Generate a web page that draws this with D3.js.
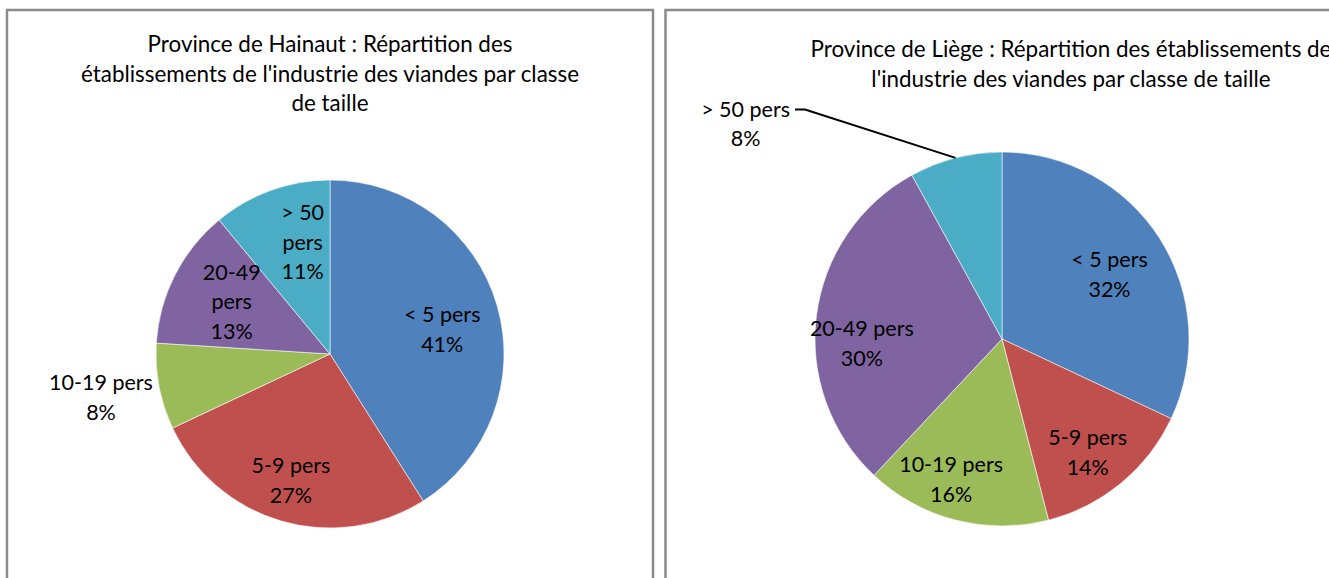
<!DOCTYPE html>
<html><head><meta charset="utf-8">
<script src="https://cdn.jsdelivr.net/npm/d3@7"></script>
<style>
html,body{margin:0;padding:0;background:#fff;overflow:hidden}
svg{display:block}
text{font-family:Lato,"Open Sans",sans-serif;fill:#000}
</style></head><body>
<svg id="chart" width="1329" height="578"></svg>
<script>
// ---- data ----
const categories = ["< 5 pers", "5-9 pers", "10-19 pers", "20-49 pers", "> 50 pers"];
const hainautValues = [41, 27, 8, 13, 11];
const liegeValues = [32, 14, 16, 30, 8];
const hainautTitle = ["Province de Hainaut : Répartition des", "établissements de l'industrie des viandes par classe", "de taille"];
const liegeTitle = ["Province de Liège : Répartition des établissements de", "l'industrie des viandes par classe de taille"];
const colors = ["#4F81BD", "#C0504D", "#9BBB59", "#8064A2", "#4BACC6"];

// ---- layout (label placement: radius fraction, angle offset in degrees, wrap, leader) ----
const panels = [
  { values: hainautValues, title: hainautTitle, box: [7, 10, 646, 640], cx: 330, cy: 354, r: 174,
    titleX: 330, titleY: 52,
    labels: [
      { f: 0.66, da: 4 }, { f: 0.76, da: 1 }, { f: 1.34, da: 0 },
      { f: 0.64, da: 1, wrap: true }, { f: 0.66, da: 6, wrap: true }
    ] },
  { values: liegeValues, title: liegeTitle, box: [665.5, 10, 700, 640], cx: 1002, cy: 339, r: 187,
    titleX: 1071, titleY: 57,
    labels: [
      { f: 0.67, da: 1.5 }, { f: 0.76, da: 2.5 }, { f: 0.80, da: 5.5 },
      { f: 0.75, da: -9 }, { f: 1.79, da: -35.6, leader: true }
    ] }
];

const svg = d3.select("#chart");
const fontSize = 21.5, titleSize = 22.4, lineH = 29.5;
const pie = d3.pie().sort(null).value(d => d);
const color = d3.scaleOrdinal().domain(categories).range(colors);
const fmt = d3.format(".0%");

panels.forEach(p => {
  const g = svg.append("g");
  g.append("rect").attr("x", p.box[0]).attr("y", p.box[1]).attr("width", p.box[2]).attr("height", p.box[3])
    .attr("fill", "#fff").attr("stroke", "#8a8a8a").attr("stroke-width", 2.5);

  const t = g.append("text").attr("text-anchor", "middle").style("font-size", titleSize + "px");
  p.title.forEach((line, i) => t.append("tspan").attr("x", p.titleX).attr("y", p.titleY + i * lineH).text(line));

  const total = d3.sum(p.values);
  const arcs = pie(p.values);
  const arc = d3.arc().innerRadius(0).outerRadius(p.r);
  const pg = g.append("g").attr("transform", `translate(${p.cx},${p.cy})`);
  pg.selectAll("path").data(arcs).join("path")
    .attr("d", arc).attr("fill", (d, i) => color(categories[i]))
    .attr("stroke", "rgba(255,255,255,0.7)").attr("stroke-width", 0.8);

  arcs.forEach((d, i) => {
    const L = p.labels[i];
    const mid = (d.startAngle + d.endAngle) / 2;
    const a = mid + L.da * Math.PI / 180;
    const rr = p.r * L.f;
    const x = Math.sin(a) * rr, y = -Math.cos(a) * rr;
    const pct = fmt(d.value / total);
    const lines = L.wrap ? categories[i].split(/ (?=pers)/).concat([pct]) : [categories[i], pct];
    const tx = pg.append("text").attr("text-anchor", "middle").style("font-size", fontSize + "px");
    const y0 = y - (lines.length - 1) * lineH / 2 + 7.5;
    lines.forEach((ln, k) => tx.append("tspan").attr("x", x).attr("y", y0 + k * lineH).text(ln));
    if (L.leader) {
      const w = tx.select("tspan").node().getComputedTextLength();
      const sx = x + w / 2 + 5, sy = y0 - 7;
      const ex = Math.sin(mid) * p.r, ey = -Math.cos(mid) * p.r;
      pg.append("path").attr("d", d3.line()([[sx, sy], [sx + 10, sy], [ex, ey]]))
        .attr("fill", "none").attr("stroke", "#000").attr("stroke-width", 2);
    }
  });
});
</script></body></html>
